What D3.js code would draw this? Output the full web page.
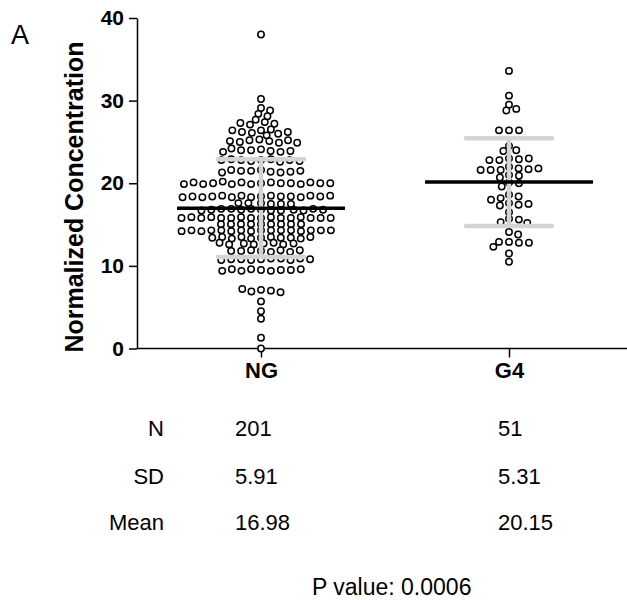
<!DOCTYPE html>
<html>
<head>
<meta charset="utf-8">
<script src="https://cdn.jsdelivr.net/npm/d3@7"></script>
<style>
  body { margin: 0; background: #fff; }
  svg text { font-family: Arial, "Liberation Sans", sans-serif; }
</style>
</head>
<body>
<div id="chart"></div>
<script>
const groups = ["NG", "G4"];

// NG values, read row by row from the top of the swarm down
const ngValues = [
    38.0, 30.2, 29.1, 28.8, 28.4,
    28.1, 27.7, 27.4, 27.1, 27.2, 27.3,
    26.4, 26.5, 26.1, 26.0, 26.2, 26.2, 26.4, 25.8,
    25.3, 25.1, 25.2, 24.9, 25.0, 25.2, 25.1, 24.9,
    24.1, 23.9, 24.0, 23.8, 24.0, 23.9, 24.2, 23.8,
    22.8, 22.9, 22.7, 22.8, 22.6, 22.8, 22.9, 22.7, 22.8,
    21.6, 21.4, 21.5, 21.3, 21.5, 21.4, 21.6, 21.3, 21.5,
    20.0, 20.1, 19.9, 20.0, 20.1, 19.9, 20.0, 20.2, 19.9, 20.0, 20.1, 19.9, 20.0, 20.1, 20.0, 19.9,
    18.4, 18.5, 18.3, 18.4, 18.5, 18.3, 18.4, 18.5, 18.3, 18.4, 18.5, 18.3, 18.4, 18.4, 18.5, 18.3,
    17.6, 17.5, 17.6, 17.5, 17.6, 17.5,
    16.8, 16.9, 16.7, 16.8, 16.9, 16.7, 16.8, 16.9, 16.7, 16.8, 16.9, 16.7, 16.8,
    15.8, 15.9, 15.8, 15.8, 15.9, 15.8, 15.8, 15.9, 15.8, 15.8, 15.9, 15.8, 15.8, 15.8, 15.9, 15.8,
    15.05, 15.05, 15.05, 15.05, 15.05, 15.05, 15.05, 15.05, 15.05,
    14.3, 14.3, 14.2, 14.3, 14.3, 14.2, 14.3, 14.3, 14.2, 14.3, 14.3, 14.2, 14.3, 14.3, 14.3, 14.2,
    13.4, 13.5, 13.3, 13.4, 13.5, 13.3, 13.4, 13.5, 13.3, 13.4, 13.5,
    12.7, 12.6, 12.8, 12.7, 12.6, 12.8, 12.7, 12.6,
    11.8, 11.9, 11.7, 11.8, 11.9, 11.7, 11.8, 11.9,
    10.8, 10.9, 10.7, 10.8, 10.9, 10.7, 10.8, 10.9, 10.7, 10.8,
    9.5, 9.4, 9.6, 9.5, 9.4, 9.6, 9.5, 9.4, 9.6,
    7.1, 7.0, 6.9, 7.2, 6.8,
    5.7, 4.5, 3.6, 1.3, 0.0
];

const g4Values = [
    33.6, 30.6, 29.5, 29.0, 28.8, 26.4, 26.4, 26.4,
    24.5, 24.0, 23.9,
    23.0, 22.9, 22.8, 22.8, 23.0, 22.0,
    21.8, 21.6, 21.6, 21.7, 21.6, 21.8,
    21.0, 20.9, 20.7,
    20.1, 20.0, 19.6,
    18.6, 18.4, 18.2, 18.0, 17.6, 17.4, 17.5, 17.3,
    16.5, 15.7, 15.6, 15.3, 15.2,
    14.1, 13.8, 12.9, 12.8, 12.9, 12.8, 12.3, 11.5, 10.5
];

const nValues = ["201", "51"];
const sdValues = [5.91, 5.31];
const meanValues = [16.98, 20.15];
const statLabels = ["N", "SD", "Mean"];
const pValue = "0.0006";
const yTicks = [0, 10, 20, 30, 40];

const width = 627;
const height = 600;

const svg = d3.select("#chart").append("svg").attr("width", width).attr("height", height);

const y = d3.scaleLinear().domain([0, 40]).range([348.5, 18]);
const x = d3.scalePoint().domain(groups).range([137, 633]).padding(0.5);

// greedy swarm: each point goes as close to the centre as it can without hitting placed points
function swarm(values, ax, ay) {
    const placed = [];
    values.forEach(v => {
        const py = y(v);
        const near = placed.filter(p => Math.abs(p.y - py) < ay);
        const cands = [0];
        near.forEach(p => {
            const dy = p.y - py;
            const dx = ax * Math.sqrt(1 - (dy * dy) / (ay * ay));
            cands.push(p.dx + dx + 0.01, p.dx - dx - 0.01);
        });
        cands.sort((a, b) => Math.abs(a) - Math.abs(b));
        const ok = cands.find(c =>
            near.every(p => ((c - p.dx) / ax) ** 2 + ((py - p.y) / ay) ** 2 >= 0.999)
        );
        placed.push({ v, dx: ok, y: py });
    });
    return placed;
}

// axes
const yAxis = svg.append("g")
    .attr("transform", "translate(137,0)")
    .call(d3.axisLeft(y).tickValues(yTicks).tickSize(8).tickPadding(5).tickSizeOuter(0));
yAxis.select(".domain").attr("stroke-width", 1.5);
yAxis.selectAll(".tick line").attr("stroke-width", 1.5);
yAxis.selectAll(".tick text")
    .attr("font-size", 21)
    .attr("font-weight", "bold")
    .attr("font-family", "Arial, 'Liberation Sans', sans-serif")
    .attr("fill", "#000");

const xAxis = svg.append("g")
    .attr("transform", "translate(0,348.5)")
    .call(d3.axisBottom(x).tickSize(9).tickPadding(5).tickSizeOuter(0));
xAxis.select(".domain").attr("stroke-width", 1.5).attr("d", "M137,0H627");
xAxis.selectAll(".tick line").attr("stroke-width", 1.5);
xAxis.selectAll(".tick text")
    .attr("font-size", 22)
    .attr("font-weight", "bold")
    .attr("font-family", "Arial, 'Liberation Sans', sans-serif")
    .attr("fill", "#000");

svg.append("text")
    .attr("transform", "translate(83,197) rotate(-90)")
    .attr("text-anchor", "middle")
    .attr("font-size", 25)
    .attr("font-weight", "bold")
    .text("Normalized Concentration");

svg.append("text")
    .attr("x", 11)
    .attr("y", 44)
    .attr("font-size", 27)
    .text("A");

// points
const data = [ngValues, g4Values];
groups.forEach((g, i) => {
    const pts = swarm(data[i], 10, 6);
    svg.append("g")
        .selectAll("circle")
        .data(pts)
        .join("circle")
        .attr("cx", d => x(g) + d.dx)
        .attr("cy", d => d.y)
        .attr("r", 3.2)
        .attr("fill", "#fff")
        .attr("stroke", "#000")
        .attr("stroke-width", 1.5);
});

// SD bars then mean line on top
groups.forEach((g, i) => {
    const cx = x(g);
    const lo = y(meanValues[i] - sdValues[i]);
    const hi = y(meanValues[i] + sdValues[i]);
    const sd = svg.append("g").attr("stroke", "#d4d4d4").attr("stroke-width", 4.5);
    sd.append("line").attr("x1", cx).attr("x2", cx).attr("y1", lo).attr("y2", hi);
    sd.append("line").attr("x1", cx - 43).attr("x2", cx + 43).attr("y1", lo).attr("y2", lo).attr("stroke-linecap", "round");
    sd.append("line").attr("x1", cx - 43).attr("x2", cx + 43).attr("y1", hi).attr("y2", hi).attr("stroke-linecap", "round");
    svg.append("line")
        .attr("x1", cx - 84).attr("x2", cx + 84)
        .attr("y1", y(meanValues[i])).attr("y2", y(meanValues[i]))
        .attr("stroke", "#000")
        .attr("stroke-width", 3.5);
});

// stats table
const rowY = [436, 484, 530];
const colX = [235, 498];
const rows = [nValues, sdValues.map(d => d.toFixed(2)), meanValues.map(d => d.toFixed(2))];
statLabels.forEach((lab, r) => {
    svg.append("text")
        .attr("x", 164).attr("y", rowY[r])
        .attr("text-anchor", "end")
        .attr("font-size", 22)
        .text(lab);
    rows[r].forEach((val, c) => {
        svg.append("text")
            .attr("x", colX[c]).attr("y", rowY[r])
            .attr("font-size", 22)
            .text(val);
    });
});

svg.append("text")
    .attr("x", 312).attr("y", 595)
    .attr("font-size", 23)
    .text(`P value: ${pValue}`);
</script>
</body>
</html>
